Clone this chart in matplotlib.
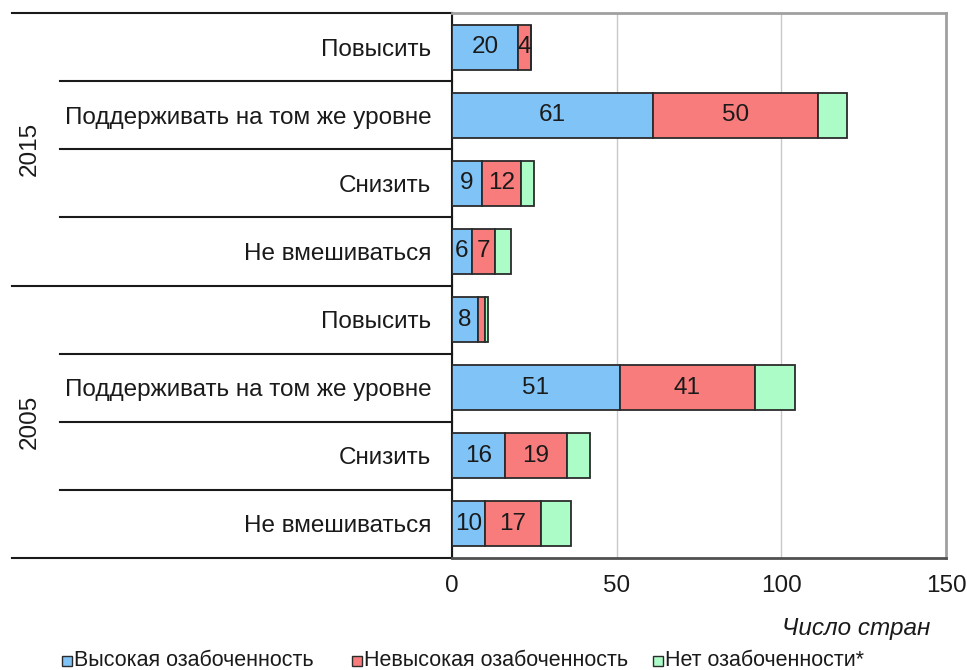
import numpy as np
import matplotlib.pyplot as plt
import matplotlib.patches as patches
import matplotlib.transforms as mtransforms

plt.rcParams['font.family'] = ['Liberation Sans', 'DejaVu Sans']

#%% data (top to bottom)
years = ['2015', '2005']
actions = ['Повысить', 'Поддерживать на том же уровне', 'Снизить', 'Не вмешиваться']
high = [20, 61, 9, 6, 8, 51, 16, 10]
low = [4, 50, 12, 7, 2, 41, 19, 17]
none = [0, 9, 4, 5, 1, 12, 7, 9]
series_names = ['Высокая озабоченность', 'Невысокая озабоченность', 'Нет озабоченности*']
colors = ['#80c4f7', '#f87c7c', '#abfcc6']
xticks = [0, 50, 100, 150]
x_label = 'Число стран'

#%% plot
W, H = 967, 670
fig = plt.figure(figsize=(W / 100, H / 100), dpi=100)
ax = fig.add_axes([452 / W, 1 - 558 / H, 494 / W, 545 / H])

labels = actions * len(years)
y = np.arange(len(labels))
left = np.zeros(len(labels))
fs = 17.5
for vals, col, name in zip([high, low, none], colors, series_names):
    vals = np.array(vals)
    bars = ax.barh(y, vals, left=left, height=0.66, color=col, edgecolor='#2b2b2b',
                   linewidth=1.3, label=name, zorder=3)
    if col != colors[2]:
        for b, v in zip(bars, vals):
            if v >= 4:
                ax.text(b.get_x() + b.get_width() / 2, b.get_y() + b.get_height() / 2, str(v),
                        ha='center', va='center', fontsize=fs, color='#1a1a1a', zorder=4)
    left = left + vals

ax.set_ylim(len(labels) - 0.5, -0.5)
ax.set_xlim(0, 150)
ax.set_yticks(y)
ax.set_yticklabels(labels, fontsize=fs, color='#1a1a1a')
ax.set_xticks(xticks)
ax.set_xticklabels([str(t) for t in xticks], fontsize=fs, color='#1a1a1a')
ax.tick_params(axis='y', length=0, pad=15)
ax.tick_params(axis='x', length=0, pad=12)
ax.grid(axis='x', color='#c8c8c8', linewidth=1, zorder=0)

for s in ['top', 'right']:
    ax.spines[s].set_color('#a0a0a0')
    ax.spines[s].set_linewidth(2)
ax.spines['left'].set_color('#1a1a1a')
ax.spines['left'].set_linewidth(1.5)
ax.spines['bottom'].set_color('#505050')
ax.spines['bottom'].set_linewidth(2)

# separators of the category axis
trans = mtransforms.blended_transform_factory(ax.transAxes, ax.transData)
x_inner = (60 - 452) / 494
x_outer = (12 - 452) / 494
n = len(actions)
for k in range(len(labels) + 1):
    yy = k - 0.5
    x0 = x_outer if k % n == 0 else x_inner
    ax.plot([x0, 0], [yy, yy], color='#1a1a1a', lw=1.5, transform=trans, clip_on=False)
for g, yr in enumerate(years):
    ax.text((30 - 452) / 494, g * n + (n - 1) / 2, yr, rotation=90, ha='center', va='center',
            fontsize=fs, color='#1a1a1a', transform=trans)

fig.text(930 / W, 1 - 628 / H, x_label, ha='right', va='center', fontsize=fs,
         style='italic', color='#1a1a1a')

# legend, entries placed like the original
leg_x = [62, 352, 653]
leg_y = 661
for xp, c, name in zip(leg_x, colors, series_names):
    fig.patches.append(patches.Rectangle((xp / W, 1 - (leg_y + 5) / H), 10 / W, 10 / H,
                                         facecolor=c, edgecolor='#2b2b2b', linewidth=1,
                                         transform=fig.transFigure, figure=fig))
    fig.text((xp + 12) / W, 1 - leg_y / H, name, ha='left', va='center', fontsize=15.5,
             color='#1a1a1a')

fig.savefig('out.png', dpi=100)
